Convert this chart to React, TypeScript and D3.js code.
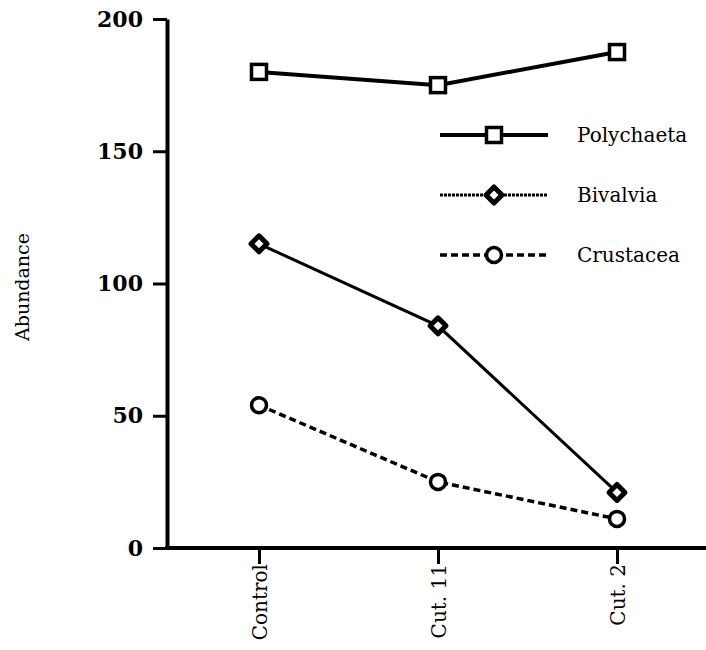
import * as d3 from 'd3';
import React, { useEffect, useRef } from 'react';

const categories = ['Control', 'Cut. 11', 'Cut. 2'];
const polychaeta = [180, 175, 187.5];
const bivalvia = [115, 84, 21];
const crustacea = [54, 25, 11];
const yTicks = [0, 50, 100, 150, 200];

interface Series {
  name: string,
  values: number[],
  marker: 'square' | 'diamond' | 'circle',
  width: number,
  dash: string | null
}

const series: Series[] = [
  { name: 'Polychaeta', values: polychaeta, marker: 'square', width: 4, dash: null },
  { name: 'Bivalvia', values: bivalvia, marker: 'diamond', width: 3, dash: null },
  { name: 'Crustacea', values: crustacea, marker: 'circle', width: 3.5, dash: '7,4' },
];

const width = 706;
const height = 650;
const axisX = 167;
const yTop = 19;
const yBottom = 548;
const font = "'DejaVu Serif', 'Liberation Serif', serif";

function drawMarker(g: d3.Selection<SVGGElement, unknown, null, undefined>, kind: string, cx: number, cy: number) {
  if (kind === 'square') {
    g.append('rect')
      .attr('x', cx - 7.5).attr('y', cy - 7.5)
      .attr('width', 15).attr('height', 15)
      .attr('fill', 'white').attr('stroke', 'black').attr('stroke-width', 3.5);
  } else if (kind === 'diamond') {
    g.append('path')
      .attr('d', `M${cx},${cy - 8}L${cx + 8},${cy}L${cx},${cy + 8}L${cx - 8},${cy}Z`)
      .attr('fill', 'white').attr('stroke', 'black').attr('stroke-width', 5)
      .attr('stroke-linejoin', 'round');
  } else {
    g.append('circle')
      .attr('cx', cx).attr('cy', cy).attr('r', 7.5)
      .attr('fill', 'white').attr('stroke', 'black').attr('stroke-width', 3.5);
  }
}

export default function App() {
  const svgRef = useRef<SVGSVGElement | null>(null);

  useEffect(() => {
    const svg = d3.select(svgRef.current);
    svg.selectAll('*').remove();

    const x = d3.scalePoint<string>().domain(categories).range([259, 617]);
    const y = d3.scaleLinear().domain([0, 200]).range([yBottom, yTop]);

    // y axis
    svg.append('g')
      .attr('transform', `translate(${axisX},0)`)
      .call(d3.axisLeft(y).tickValues(yTicks).tickSize(14).tickPadding(10).tickSizeOuter(0))
      .call(g => g.select('.domain').attr('stroke-width', 4))
      .call(g => g.selectAll('.tick line').attr('stroke-width', 3))
      .call(g => g.selectAll('.tick text')
        .style('font-family', font).style('font-size', '22px').style('font-weight', 'bold').attr('fill', 'black'));

    // x axis line
    svg.append('line')
      .attr('x1', axisX - 2).attr('x2', width)
      .attr('y1', yBottom).attr('y2', yBottom)
      .attr('stroke', 'black').attr('stroke-width', 4);

    const xAxis = svg.append('g')
      .attr('transform', `translate(0,${yBottom})`)
      .call(d3.axisBottom(x).tickSize(16).tickPadding(10).tickSizeOuter(0));
    xAxis.select('.domain').remove();
    xAxis.selectAll('.tick line').attr('stroke-width', 3);
    xAxis.selectAll('.tick text')
      .style('font-family', font).style('font-size', '20px').attr('fill', 'black')
      .attr('transform', 'rotate(-90)')
      .attr('text-anchor', 'end')
      .attr('x', -16).attr('y', 0).attr('dy', '0.35em');

    // y label
    svg.append('text')
      .attr('transform', `translate(29,${287}) rotate(-90)`)
      .attr('text-anchor', 'middle')
      .style('font-family', font).style('font-size', '19px')
      .text('Abundance');

    const line = d3.line<number>()
      .x((_, i) => x(categories[i]) as number)
      .y(d => y(d));

    series.forEach(s => {
      svg.append('path')
        .datum(s.values)
        .attr('fill', 'none')
        .attr('stroke', 'black')
        .attr('stroke-width', s.width)
        .attr('stroke-dasharray', s.dash)
        .attr('d', line);
      const g = svg.append('g');
      s.values.forEach((v, i) => drawMarker(g, s.marker, x(categories[i]) as number, y(v)));
    });

    // legend
    const legendY = [135, 195, 255];
    series.forEach((s, i) => {
      const ly = legendY[i];
      svg.append('line')
        .attr('x1', 440).attr('x2', 548)
        .attr('y1', ly).attr('y2', ly)
        .attr('stroke', 'black')
        .attr('stroke-width', s.width)
        .attr('stroke-dasharray', s.dash ?? (s.marker === 'diamond' ? '3,1' : null));
      drawMarker(svg.append('g'), s.marker, 494, ly);
      svg.append('text')
        .attr('x', 577).attr('y', ly).attr('dy', '0.35em')
        .style('font-family', font).style('font-size', '20px')
        .text(s.name);
    });
  }, []);

  return (
    <svg ref={svgRef} width={width} height={height}
      style={{ position: 'absolute', left: 0, top: 0, background: 'white' }} />
  );
}
